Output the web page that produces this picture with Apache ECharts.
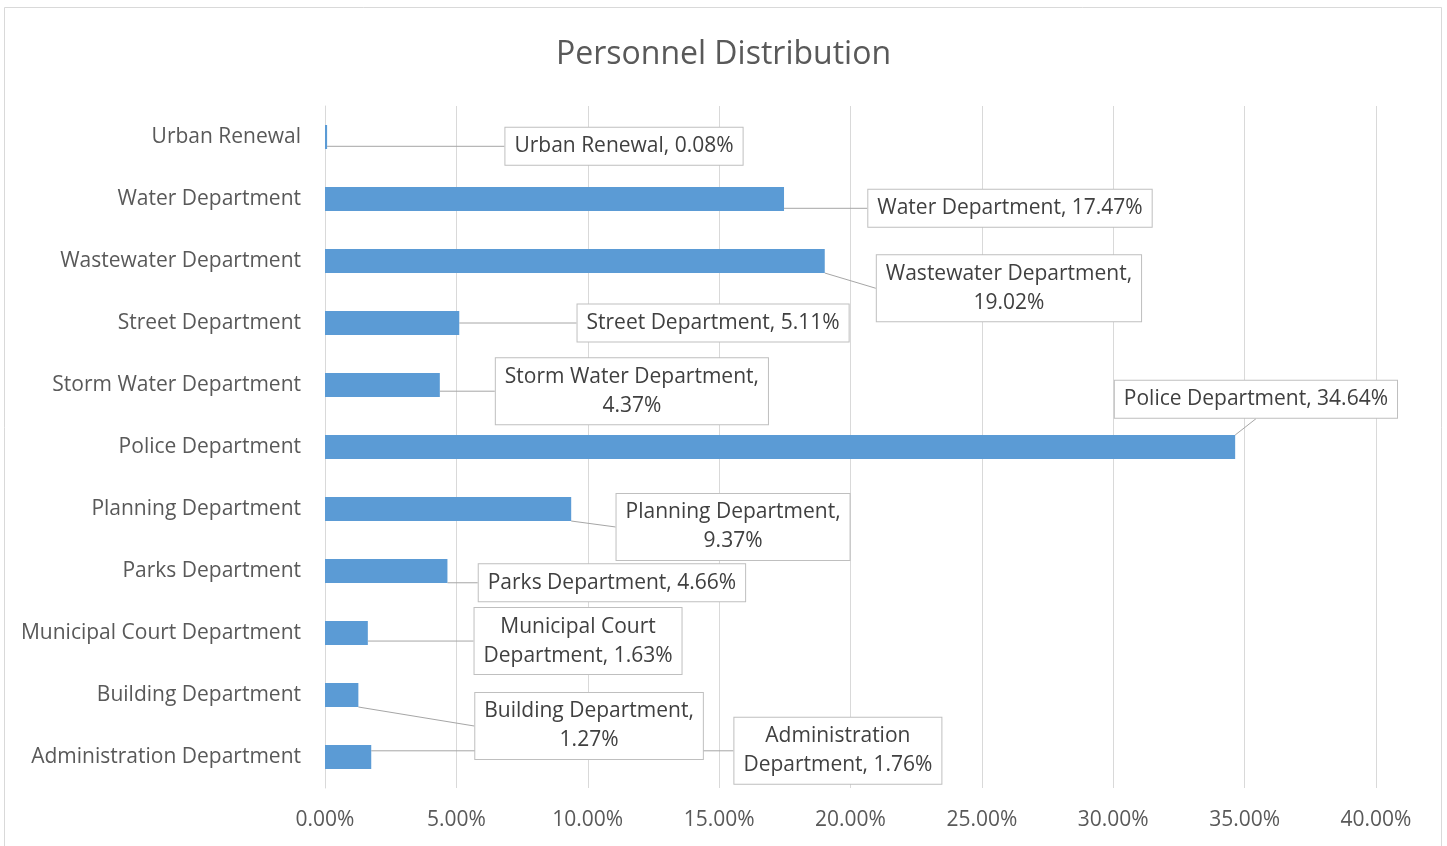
<!DOCTYPE html>
<html>
<head>
<meta charset="utf-8">
<title>Personnel Distribution</title>
<script src="https://cdn.jsdelivr.net/npm/echarts@6/dist/echarts.min.js"></script>
<style>
    html, body { margin: 0; padding: 0; background: #fff; }
    #main { width: 1447px; height: 846px; }
</style>
</head>
<body>
<div id="main"></div>
<script>
// categories, bottom to top as drawn on the y axis
var departments = [
    'Administration Department',
    'Building Department',
    'Municipal Court Department',
    'Parks Department',
    'Planning Department',
    'Police Department',
    'Storm Water Department',
    'Street Department',
    'Wastewater Department',
    'Water Department',
    'Urban Renewal'
];
// share of personnel, %
var shares = [1.76, 1.27, 1.63, 4.66, 9.37, 34.64, 4.37, 5.11, 19.02, 17.47, 0.08];
var xTicks = [0, 5, 10, 15, 20, 25, 30, 35, 40];

// where each data label sits: [x in %, y in category units]
var labelSpots = [
    [19.52, 0.10], [10.05, 0.50], [9.63, 1.87], [10.92, 2.81], [15.53, 3.71],
    [35.43, 5.77], [11.68, 5.90], [14.77, 7.00], [26.03, 7.56], [26.07, 8.85], [11.38, 9.85]
];
// wrap the label after this many words (0 = one line)
var labelBreak = [1, 2, 2, 0, 2, 0, 3, 0, 2, 0, 0];

var font = '"Open Sans", "Noto Sans", sans-serif';
var myChart = echarts.init(document.getElementById('main'));

function labelText(p) {
    var words = (p.name + ', ' + p.value.toFixed(2) + '%').split(' ');
    var n = labelBreak[p.dataIndex];
    if (!n) return words.join(' ');
    return words.slice(0, n).join(' ') + '\n' + words.slice(n).join(' ');
}

// category axis rounds its values, so step between two whole categories
function spotToPixel(spot) {
    var base = Math.floor(spot[1]);
    var frac = spot[1] - base;
    var a = myChart.convertToPixel({ gridIndex: 0 }, [spot[0], base]);
    var b = myChart.convertToPixel({ gridIndex: 0 }, [spot[0], base + 1]);
    return [a[0], a[1] + (b[1] - a[1]) * frac];
}

var option = {
    animation: false,
    backgroundColor: '#fff',
    title: {
        text: 'Personnel Distribution',
        left: 'center',
        top: 39,
        padding: 0,
        textStyle: { fontFamily: font, fontSize: 32, fontWeight: 'normal', color: '#595959' }
    },
    graphic: [{
        type: 'rect',
        shape: { x: 4.5, y: 7.5, width: 1437, height: 860 },
        style: { fill: 'none', stroke: '#d9d9d9', lineWidth: 1 },
        silent: true
    }],
    grid: { left: 325, right: 71, top: 106, bottom: 58 },
    xAxis: {
        type: 'value',
        min: xTicks[0],
        max: xTicks[xTicks.length - 1],
        interval: xTicks[1] - xTicks[0],
        axisLine: { show: false },
        axisTick: { show: false },
        splitLine: { lineStyle: { color: '#d9d9d9', width: 1 } },
        axisLabel: {
            margin: 22,
            fontFamily: font, fontSize: 21, color: '#595959',
            formatter: function (v) { return v.toFixed(2) + '%'; }
        }
    },
    yAxis: {
        type: 'category',
        data: departments,
        axisLine: { show: true, lineStyle: { color: '#d9d9d9' } },
        axisTick: { show: false },
        splitLine: { show: false },
        axisLabel: { margin: 24, padding: [4, 0, 0, 0], fontFamily: font, fontSize: 21, color: '#595959' }
    },
    series: [{
        type: 'bar',
        data: shares,
        barWidth: 24,
        itemStyle: { color: '#5b9bd5' },
        label: {
            show: true,
            position: 'right',
            formatter: labelText,
            fontFamily: font,
            fontSize: 21,
            lineHeight: 29,
            color: '#404040',
            align: 'center',
            backgroundColor: '#fff',
            borderColor: '#bfbfbf',
            borderWidth: 1,
            padding: [4, 9]
        },
        labelLine: {
            show: true,
            lineStyle: { color: '#a6a6a6', width: 1 }
        },
        labelLayout: function (p) {
            var pt = spotToPixel(labelSpots[p.dataIndex]);
            return { x: pt[0], y: pt[1], align: 'center', verticalAlign: 'middle', hideOverlap: false };
        }
    }]
};

myChart.setOption(option);
</script>
</body>
</html>
